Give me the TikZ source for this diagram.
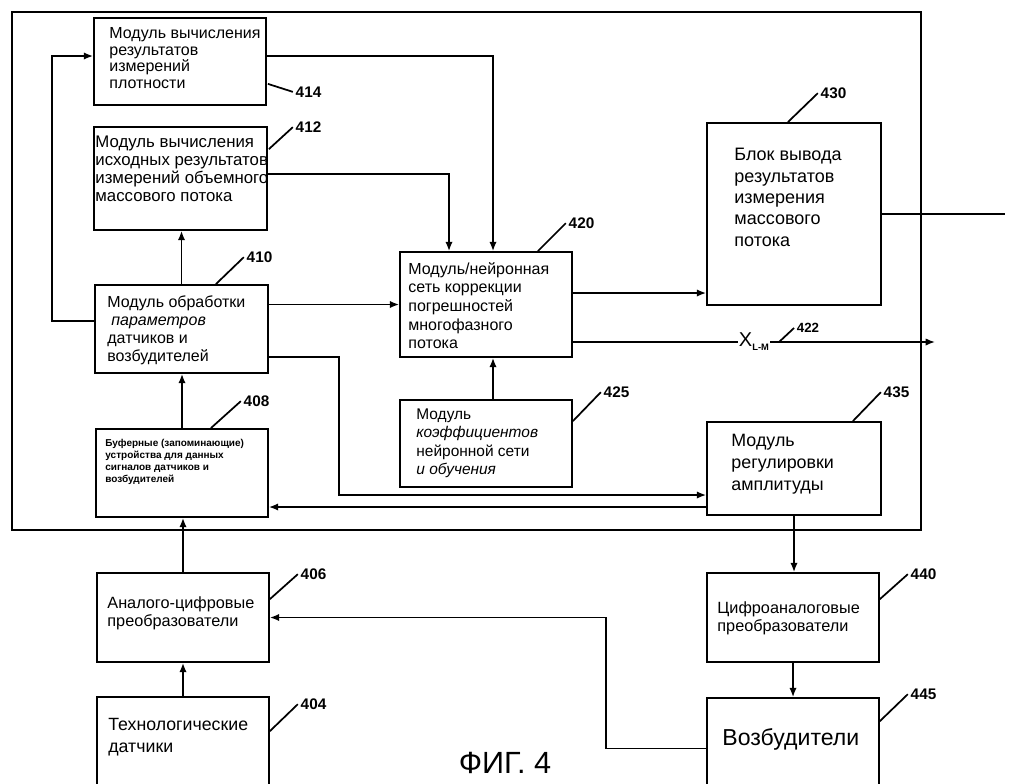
\documentclass[tikz,border=0pt]{standalone}
\usepackage{fontspec}
\setmainfont{Liberation Sans}
\usetikzlibrary{arrows.meta,calc,fit}

\begin{document}
\begin{tikzpicture}[x=0.75pt,y=0.75pt,yscale=-1,xscale=1,
  blk/.style={draw, line width=1.3pt, inner sep=0pt},
  txt/.style={anchor=north west, inner sep=0pt, align=left},
  num/.style={anchor=west, inner sep=1.5pt, font=\bfseries\fontsize{11.5}{13}\selectfont},
  lead/.style={line width=1.3pt},
  wire/.style={line width=1.2pt},
  arr/.style={line width=1.2pt, -{Latex[length=7pt,width=5.5pt]}}]
\clip (0,0) rectangle (1009,783);

%Shape: Rectangle (system frame)
\node [blk, fit={(12,12) (921,530)}] (sys) {};

%Shape: Rectangle [414]
\node [blk, fit={(94,18) (266,105)}] (m414) {};
%Shape: Rectangle [412]
\node [blk, fit={(94,127) (267,230)}] (m412) {};
%Shape: Rectangle [410]
\node [blk, fit={(95,285) (268,373)}] (m410) {};
%Shape: Rectangle [408]
\node [blk, fit={(96,429) (268,517)}] (m408) {};
%Shape: Rectangle [420]
\node [blk, fit={(400,252) (572,357)}] (m420) {};
%Shape: Rectangle [425]
\node [blk, fit={(400,400) (572,487)}] (m425) {};
%Shape: Rectangle [430]
\node [blk, fit={(707,123) (881,305)}] (m430) {};
%Shape: Rectangle [435]
\node [blk, fit={(707,422) (881,515)}] (m435) {};
%Shape: Rectangle [406]
\node [blk, fit={(97,573) (269,662)}] (m406) {};
%Shape: Rectangle [404]
\node [blk, fit={(97,697) (269,795)}] (m404) {};
%Shape: Rectangle [440]
\node [blk, fit={(707,573) (879,662)}] (m440) {};
%Shape: Rectangle [445]
\node [blk, fit={(707,698) (879,795)}] (m445) {};

% Text Node
\node [txt, font=\fontsize{12}{12.5}\selectfont] (t414) at ($(m414.north west)+(16,10)$)
  {Модуль вычисления\\результатов\\измерений\\плотности};
% Text Node
\node [txt, font=\fontsize{12.6}{13.3}\selectfont] (t412) at ($(m412.north west)+(2,10)$)
  {Модуль вычисления\\исходных результатов\\измерений объемного\\массового потока};
% Text Node
\node [txt, font=\fontsize{12}{13.5}\selectfont] (t410) at ($(m410.north west)+(13,11)$)
  {Модуль обработки\\\hspace{3pt}\textit{параметров}\\датчиков и\\возбудителей};
% Text Node
\node [txt, font=\bfseries\fontsize{7.5}{9}\selectfont] (t408) at ($(m408.north west)+(10,11)$)
  {Буферные (запоминающие)\\устройства для данных\\сигналов датчиков и\\возбудителей};
% Text Node
\node [txt, font=\fontsize{12}{14}\selectfont] (t420) at ($(m420.north west)+(9,11)$)
  {Модуль/нейронная\\сеть коррекции\\погрешностей\\многофазного\\потока};
% Text Node
\node [txt, font=\fontsize{11.6}{13.9}\selectfont] (t425) at ($(m425.north west)+(17,9)$)
  {Модуль\\\textit{коэффициентов}\\нейронной сети\\\textit{и обучения}};
% Text Node
\node [txt, font=\fontsize{13.5}{16}\selectfont] (t430) at ($(m430.north west)+(28,26)$)
  {Блок вывода\\результатов\\измерения\\массового\\потока};
% Text Node
\node [txt, font=\fontsize{13.4}{16.3}\selectfont] (t435) at ($(m435.north west)+(25,13)$)
  {Модуль\\регулировки\\амплитуды};
% Text Node
\node [txt, font=\fontsize{12.2}{13.5}\selectfont] (t406) at ($(m406.north west)+(11,24)$)
  {Аналого-цифровые\\преобразователи};
% Text Node
\node [txt, font=\fontsize{13.3}{16.3}\selectfont] (t404) at ($(m404.north west)+(12,22)$)
  {Технологические\\датчики};
% Text Node
\node [txt, font=\fontsize{12.2}{13.5}\selectfont] (t440) at ($(m440.north west)+(11,29)$)
  {Цифроаналоговые\\преобразователи};
% Text Node
\node [txt, font=\fontsize{17.3}{20}\selectfont] (t445) at ($(m445.north west)+(16,31)$)
  {Возбудители};

%Straight Lines (reference numbers)
\draw [lead] ($(m414.south east)+(1,-22)$) -- ++(25,8) node [num] (n414) {414};
\draw [lead] ($(m412.north east)+(1,23)$) -- ++(24,-22) node [num] (n412) {412};
\draw [lead] ($(m410.north east)+(-53,0)$) -- ++(28,-27) node [num] (n410) {410};
\draw [lead] ($(m408.north east)+(-58,0)$) -- ++(30,-27) node [num] (n408) {408};
\draw [lead] ($(m420.north east)+(-35,0)$) -- ++(28,-28) node [num] (n420) {420};
\draw [lead] ($(m425.north east)+(0,22)$) -- ++(28,-29) node [num] (n425) {425};
\draw [lead] ($(m430.north east)+(-94,0)$) -- ++(30,-29) node [num] (n430) {430};
\draw [lead] ($(m435.north east)+(-29,0)$) -- ++(28,-29) node [num] (n435) {435};
\draw [lead] ($(m406.north east)+(0,27)$) -- ++(28,-25) node [num] (n406) {406};
\draw [lead] ($(m404.north east)+(0,35)$) -- ++(28,-27) node [num] (n404) {404};
\draw [lead] ($(m440.north east)+(0,27)$) -- ++(28,-25) node [num] (n440) {440};
\draw [lead] ($(m445.north east)+(0,24)$) -- ++(28,-27) node [num] (n445) {445};

%Connectors
\coordinate (xout) at (935,342);
\coordinate (mout) at (1005,214);
\draw [arr] ($(m410.west)+(0,-8)$) -- ++(-42,0) |- ($(m414.west)+(0,-5.5)$);
\draw [arr] ($(m414.east)+(0,-5.5)$) -| ($(m420.north)+(7,0)$);
\draw [arr] ($(m412.east)+(0,-4.5)$) -| ($(m420.north)+(-37,0)$);
\draw [arr] (m410.north) -- (m410.north |- m412.south);
\draw [arr] (m408.north) -- (m408.north |- m410.south);
\draw [arr] (m410.east |- m420.west) -- (m420.west);
\draw [arr] ($(m420.east)+(0,-11.5)$) coordinate (o420) -- (o420 -| m430.west);
\draw [arr] ($(m420.east)+(0,37.5)$) -- node [pos=0.5, fill=white, inner sep=1pt] (xlm)
  {\fontsize{15}{15}\selectfont X\raisebox{-3pt}{\bfseries\fontsize{7}{7}\selectfont L-M}} (xout);
\draw [lead] ($(xlm.east)+(8,0)$) -- ++(15,-14) node [num, font=\bfseries\fontsize{10}{11}\selectfont] (n422) {422};
\draw [arr] ($(m425.north)+(7,0)$) -- ($(m420.south)+(7,0)$);
\draw [arr] ($(m410.east)+(0,28)$) -- ++(70,0) |- ($(m435.west)+(0,26.5)$);
\draw [arr] ($(m435.west)+(0,38.5)$) -- ($(m408.east)+(0,34)$);
\draw [wire] (m430.east) -- (mout);
\draw [arr] (m435.south) -- (m435.south |- m440.north);
\draw [arr] (m440.south) -- (m445.north);
\draw [arr] ($(m445.west)+(0,2)$) -- ++(-100,0) |- (m406.east);
\draw [arr] (m404.north) -- (m404.north |- m406.south);
\draw [arr] (m406.north) -- (m406.north |- m408.south);

% Text Node
\node [inner sep=0pt, font=\fontsize{23}{26}\selectfont] (fig) at (505,763) {ФИГ. 4};
\end{tikzpicture}
\end{document}
